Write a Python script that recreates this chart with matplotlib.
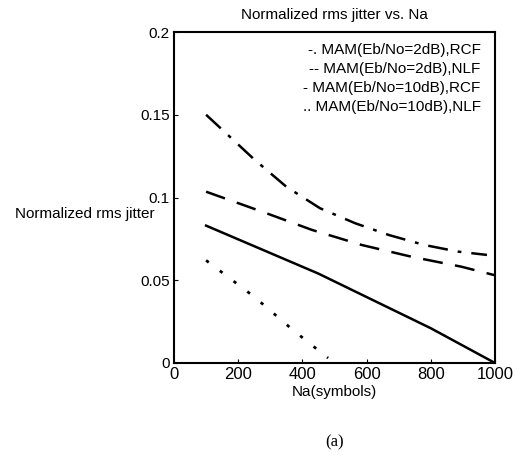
import matplotlib.pyplot as plt

plt.rcParams['font.family'] = ['Liberation Sans', 'DejaVu Sans']

# curves
na_rcf2 = [100, 250, 350, 455, 565, 670, 780, 885, 975]
jit_rcf2 = [0.150, 0.123, 0.1065, 0.0935, 0.0844, 0.0773, 0.0713, 0.0673, 0.0653]

na_nlf2 = [100, 275, 430, 585, 740, 895, 1000]
jit_nlf2 = [0.1035, 0.0914, 0.0804, 0.0713, 0.0642, 0.0582, 0.053]

na_rcf10 = [100, 450, 800, 1000]
jit_rcf10 = [0.083, 0.054, 0.021, 0.0]

na_nlf10 = [100, 250, 370, 480]
jit_nlf10 = [0.062, 0.040, 0.020, 0.003]

labels = ['-. MAM(Eb/No=2dB),RCF',
          '-- MAM(Eb/No=2dB),NLF',
          '- MAM(Eb/No=10dB),RCF',
          '.. MAM(Eb/No=10dB),NLF']

fig = plt.figure(figsize=(5.18, 4.57), dpi=100)
ax = fig.add_axes([174 / 518, 1 - 363 / 457, 321 / 518, 331 / 457])

ax.plot(na_rcf2, jit_rcf2, color='black', lw=1.8, dashes=(8, 4, 1.5, 4))
ax.plot(na_nlf2, jit_nlf2, color='black', lw=1.8, dashes=(8, 5))
ax.plot(na_rcf10, jit_rcf10, color='black', lw=1.8)
ax.plot(na_nlf10, jit_nlf10, color='black', lw=2, dashes=(1.2, 5))

ax.set_xlim(0, 1000)
ax.set_ylim(0, 0.2)
ax.set_xticks(range(0, 1001, 200))
ax.set_yticks([0, 0.05, 0.1, 0.15, 0.2])
ax.set_yticklabels(['0', '0.05', '0.1', '0.15', '0.2'])
ax.tick_params(direction='in', length=3, pad=3)
ax.tick_params(axis='x', labelsize=12)
ax.tick_params(axis='y', labelsize=11)
for s in ax.spines.values():
    s.set_linewidth(1.5)

ax.set_title('Normalized rms jitter vs. Na', fontsize=11, pad=9)
ax.set_xlabel('Na(symbols)', fontsize=11, labelpad=2)
ax.set_ylabel('Normalized rms jitter', fontsize=11, rotation=0, ha='right', va='center')
ax.yaxis.set_label_coords(-0.06, 0.45)

# legend drawn as text lines, right aligned like the original
for i, lab in enumerate(labels):
    ax.text(0.955, 0.945 - i * 0.057, lab, transform=ax.transAxes,
            ha='right', va='center', fontsize=11)

fig.text(335 / 518, 1 - 442 / 457, '(a)', fontsize=12, family='Liberation Serif',
         ha='center', va='center')

fig.savefig('out.png', dpi=100)
